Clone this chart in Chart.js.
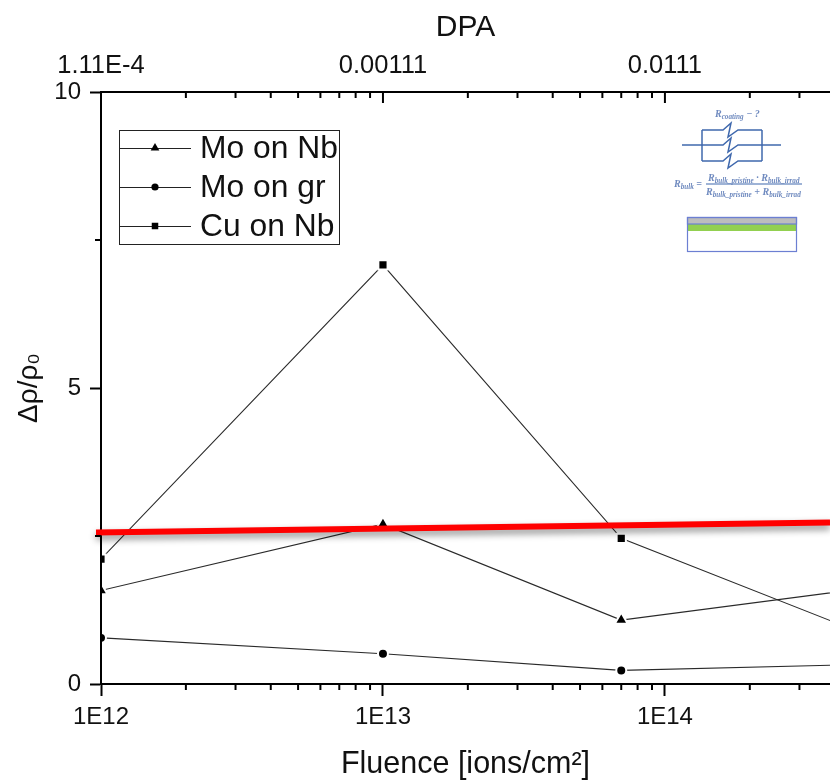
<!DOCTYPE html>
<html>
<head>
<meta charset="utf-8">
<style>html,body{margin:0;padding:0;background:#fff}canvas{display:block}</style>
<script src="https://cdn.jsdelivr.net/npm/chart.js@4"></script>
</head>
<body>
<canvas id="c" width="830" height="781"></canvas>
<script>
const fluence = [1e12, 1e13, 7e13, 5e14];
const moOnNb = [1.58, 2.7, 1.08, 1.61];
const moOnGr = [0.78, 0.51, 0.23, 0.33];
const cuOnNb = [2.11, 7.08, 2.46, 0.86];
const seriesNames = ['Mo on Nb', 'Mo on gr', 'Cu on Nb'];
const seriesMarkers = ['triangle', 'circle', 'rect'];
const markerRadius = [7.5, 5, 6.5];
const limitX = [9.6e11, 3.85e14];
const limitY = [2.56, 2.73];
const xMajorTicks = [1e12, 1e13, 1e14];
const xMinorTicks = [2e12,3e12,4e12,5e12,6e12,7e12,8e12,9e12,2e13,3e13,4e13,5e13,6e13,7e13,8e13,9e13,2e14,3e14];
const dpaLabels = ['1.11E-4', '0.00111', '0.0111'];
const fluenceLabels = ['1E12', '1E13', '1E14'];
const yMajorTicks = [0, 5, 10];
const yMinorTicks = [2.5, 7.5];
const xRange = [1e12, 3.85e14];
const yRange = [0, 10];
const BLACK = '#000';
const SANS = '"Liberation Sans", Arial, sans-serif';

function pts(xs, ys) { return xs.map((x, i) => ({ x, y: ys[i] })); }
function series(i, ys) {
  return {
    label: seriesNames[i], data: pts(fluence, ys), xAxisID: 'x', yAxisID: 'y',
    borderColor: '#2a2a2a', borderWidth: 1.1, tension: 0, fill: false,
    pointStyle: seriesMarkers[i], pointRadius: markerRadius[i], pointHoverRadius: markerRadius[i],
    pointBackgroundColor: BLACK, pointBorderColor: '#fff', pointBorderWidth: 2,
    clip: { left: -1, right: 0, top: 0, bottom: 0 }, order: 2
  };
}

const tickPlugin = {
  id: 'minorTicks',
  afterDatasetsDraw(chart) {
    const { ctx, chartArea: a, scales: s } = chart;
    ctx.save(); ctx.strokeStyle = BLACK; ctx.lineWidth = 2;
    const seg = (x1, y1, x2, y2) => { ctx.beginPath(); ctx.moveTo(x1, y1); ctx.lineTo(x2, y2); ctx.stroke(); };
    xMinorTicks.forEach(v => {
      const x = s.x.getPixelForValue(v);
      seg(x, a.bottom, x, a.bottom + 6);
      seg(x, a.top, x, a.top + 6);
    });
    xMajorTicks.slice(1).forEach(v => { const x = s.x2.getPixelForValue(v); seg(x, a.top, x, a.top + 11); });
    yMinorTicks.forEach(v => { const y = s.y.getPixelForValue(v); seg(a.left - 6, y, a.left, y); });
    ctx.restore();
  }
};

const shadowPlugin = {
  id: 'limitShadow',
  beforeDatasetDraw(chart, args) {
    if (chart.data.datasets[args.index].id !== 'limit') return;
    const c = chart.ctx; c.save();
    c.shadowColor = 'rgba(0,0,0,0.45)'; c.shadowBlur = 7; c.shadowOffsetY = 4;
  },
  afterDatasetDraw(chart, args) {
    if (chart.data.datasets[args.index].id !== 'limit') return;
    chart.ctx.restore();
  }
};

const legendPlugin = {
  id: 'boxLegend',
  afterDraw(chart) {
    const c = chart.ctx;
    c.save();
    c.fillStyle = '#fff'; c.fillRect(119.5, 130.5, 220, 114);
    c.strokeStyle = '#222'; c.lineWidth = 1; c.strokeRect(119.5, 130.5, 220, 114);
    const rows = [148, 187, 226], radii = [5, 3.6, 4.6];
    seriesNames.forEach((name, i) => {
      c.strokeStyle = '#222'; c.lineWidth = 1;
      c.beginPath(); c.moveTo(120, rows[i] + 0.5); c.lineTo(191, rows[i] + 0.5); c.stroke();
      c.fillStyle = BLACK; c.strokeStyle = BLACK;
      Chart.helpers.drawPoint(c, { pointStyle: seriesMarkers[i], radius: radii[i], rotation: 0, borderWidth: 0 }, 155, rows[i]);
      c.fillStyle = '#111'; c.font = '31.8px ' + SANS; c.textBaseline = 'middle'; c.textAlign = 'left';
      c.fillText(name, 200, rows[i] + 1);
    });
    c.restore();
  }
};

const insetPlugin = {
  id: 'inset',
  afterDraw(chart) {
    const c = chart.ctx;
    c.save();
    c.filter = 'blur(0.45px)';
    c.lineJoin = 'miter';
    c.strokeStyle = '#3f68ad'; c.lineWidth = 1.5;
    const path = p => { c.beginPath(); p.forEach((q, i) => i ? c.lineTo(q[0], q[1]) : c.moveTo(q[0], q[1])); c.stroke(); };
    [130, 145, 161].forEach(y => path([[702, y], [723, y], [731, y - 7], [728, y + 7], [738, y], [762, y]]));
    path([[702, 130], [702, 161]]); path([[762, 130], [762, 161]]);
    path([[682, 145], [702, 145]]); path([[762, 145], [781, 145]]);
    c.lineWidth = 1.2; path([[706, 184], [802, 184]]);
    c.lineWidth = 1;
    c.fillStyle = '#fff'; c.fillRect(687, 217, 110, 35);
    c.fillStyle = '#bdbdbd'; c.fillRect(687, 217, 110, 7);
    c.fillStyle = '#92d050'; c.fillRect(688, 224, 109, 7);
    c.strokeStyle = '#6c7fd2'; c.lineWidth = 1.2;
    c.strokeRect(687.5, 217.5, 109, 34); c.strokeRect(687.5, 217.5, 109, 6.5);
    c.fillStyle = '#6f8abf'; c.textBaseline = 'alphabetic'; c.textAlign = 'left';
    const runs = (x, y, list) => {
      list.forEach(([t, sub]) => {
        c.font = 'italic bold ' + (sub ? 7.2 : 10) + 'px "Liberation Serif", serif';
        c.fillText(t, x, y + (sub ? 2 : 0));
        x += c.measureText(t).width;
      });
    };
    runs(715, 117, [['R', 0], ['coating', 1], [' − ?', 0]]);
    runs(674, 187, [['R', 0], ['bulk', 1], [' =', 0]]);
    runs(708, 181, [['R', 0], ['bulk_pristine', 1], [' · R', 0], ['bulk_irrad', 1]]);
    runs(706, 195, [['R', 0], ['bulk_pristine', 1], [' + R', 0], ['bulk_irrad', 1]]);
    c.restore();
  }
};

function fitX(h) {
  return s => { s.height = h; s.paddingLeft = 0; s.paddingRight = 0; };
}

new Chart(document.getElementById('c'), {
  type: 'line',
  data: {
    datasets: [
      { id: 'limit', label: 'Limit', data: pts(limitX, limitY), xAxisID: 'x', yAxisID: 'y',
        borderColor: '#ff0000', borderWidth: 6, pointRadius: 0, tension: 0, clip: false, order: 1 },
      series(0, moOnNb), series(1, moOnGr), series(2, cuOnNb)
    ]
  },
  options: {
    responsive: false, animation: false, events: [],
    layout: { padding: 0, autoPadding: false },
    plugins: { legend: { display: false }, tooltip: { enabled: false } },
    scales: {
      x: {
        type: 'logarithmic', position: 'bottom', min: xRange[0], max: xRange[1],
        afterBuildTicks(s) { s.ticks = xMajorTicks.map(value => ({ value })); },
        afterFit: fitX(97),
        border: { display: true, color: BLACK, width: 2 },
        grid: { drawOnChartArea: false, drawTicks: true, tickLength: 12, tickWidth: 2, tickColor: BLACK },
        ticks: { autoSkip: false, maxRotation: 0, minRotation: 0, padding: 7, color: '#111', font: { family: SANS, size: 24 },
          callback(v, i) { return fluenceLabels[i]; } },
        title: { display: true, text: 'Fluence [ions/cm²]', color: '#111', font: { family: SANS, size: 30.5 }, padding: { top: 0, bottom: -2 } }
      },
      x2: {
        type: 'logarithmic', position: 'top', min: xRange[0], max: xRange[1],
        afterBuildTicks(s) { s.ticks = xMajorTicks.map(value => ({ value })); },
        afterFit: fitX(92),
        border: { display: true, color: BLACK, width: 2 },
        grid: { drawOnChartArea: false, drawTicks: false },
        ticks: { autoSkip: false, maxRotation: 0, minRotation: 0, padding: 11, color: '#111', font: { family: SANS, size: 25.5 },
          callback(v, i) { return dpaLabels[i]; } },
        title: { display: true, text: 'DPA', color: '#111', font: { family: SANS, size: 30 }, padding: { top: 10, bottom: 0 } }
      },
      y: {
        type: 'linear', position: 'left', min: yRange[0], max: yRange[1],
        afterBuildTicks(s) { s.ticks = yMajorTicks.map(value => ({ value })); },
        afterFit(s) { s.width = 101; },
        border: { display: true, color: BLACK, width: 2 },
        grid: { drawOnChartArea: false, drawTicks: true, tickLength: 11, tickWidth: 2, tickColor: BLACK },
        ticks: { padding: 9, color: '#111', font: { family: SANS, size: 24 } },
        title: { display: true, text: 'Δρ/ρ₀', color: '#111', font: { family: SANS, size: 28 }, padding: { top: 12, bottom: 0 } }
      }
    }
  },
  plugins: [tickPlugin, shadowPlugin, legendPlugin, insetPlugin]
});
</script>
</body>
</html>
